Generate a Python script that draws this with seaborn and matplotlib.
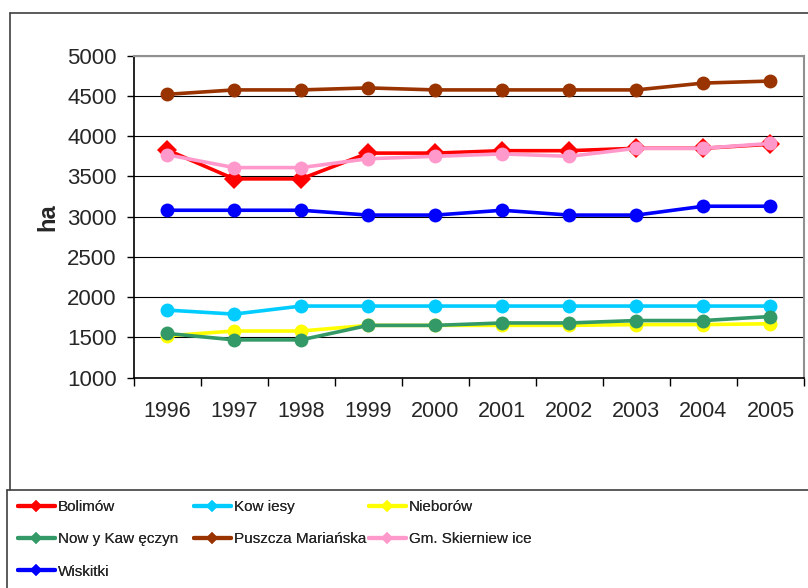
import numpy as np
import pandas as pd
import matplotlib
matplotlib.use("Agg")
import matplotlib.pyplot as plt
from matplotlib.lines import Line2D
import seaborn as sns

years = ["1996", "1997", "1998", "1999", "2000", "2001", "2002", "2003", "2004", "2005"]

bolimow = [3830, 3470, 3470, 3790, 3790, 3820, 3820, 3850, 3850, 3900]
kowiesy = [1840, 1790, 1890, 1890, 1890, 1890, 1890, 1890, 1890, 1890]
nieborow = [1520, 1580, 1580, 1650, 1650, 1650, 1650, 1660, 1660, 1670]
nowy_kaweczyn = [1550, 1470, 1470, 1650, 1650, 1680, 1680, 1710, 1710, 1760]
puszcza = [4520, 4575, 4575, 4600, 4575, 4575, 4575, 4575, 4660, 4685]
skierniewice = [3770, 3610, 3610, 3720, 3750, 3780, 3750, 3850, 3850, 3910]
wiskitki = [3080, 3080, 3080, 3020, 3020, 3080, 3020, 3020, 3130, 3130]

series_names = ["Bolimów", "Kow iesy", "Nieborów", "Now y Kaw ęczyn",
                "Puszcza Mariańska", "Gm. Skierniew ice", "Wiskitki"]
series_values = [bolimow, kowiesy, nieborow, nowy_kaweczyn, puszcza, skierniewice, wiskitki]
colors = ["#FF0000", "#00CCFF", "#FFFF00", "#339966", "#993300", "#FF99CC", "#0000FF"]
markers = ["D", "o", "o", "o", "o", "o", "o"]

y_ticks = [1000, 1500, 2000, 2500, 3000, 3500, 4000, 4500, 5000]

rows = []
for name, vals in zip(series_names, series_values):
    for yr, v in zip(years, vals):
        rows.append({"year": yr, "ha": v, "site": name})
df = pd.DataFrame(rows)

sns.set_style("white")
plt.rcParams["font.family"] = ["Liberation Sans", "DejaVu Sans"]

W, H = 808, 588
fig = plt.figure(figsize=(W / 100, H / 100), dpi=100)
ax = fig.add_axes([133.5 / W, 1 - 377.7 / H, (804 - 133.5) / W, (377.7 - 55.7) / H])

palette = dict(zip(series_names, colors))
mk = dict(zip(series_names, markers))
sns.lineplot(data=df, x="year", y="ha", hue="site", style="site",
             hue_order=series_names, style_order=series_names,
             palette=palette, markers=mk, dashes=False, sort=False,
             linewidth=2.6, markersize=10, markeredgewidth=0, ax=ax, zorder=3)

ax.get_legend().remove()

ax.set_xlim(-0.5, 9.5)
ax.set_ylim(1000, 5000)
ax.set_yticks(y_ticks)
ax.set_yticklabels([str(t) for t in y_ticks])
ax.set_xticks(np.arange(-0.5, 10, 1.0))
ax.set_xticklabels([])
ax.set_xticks(np.arange(0, 10), minor=True)
ax.set_xticklabels(years, minor=True)
ax.tick_params(axis="x", which="major", direction="out", length=6, width=1, color="black", bottom=True)
ax.tick_params(axis="x", which="minor", length=0, pad=17, labelsize=15.5)
ax.tick_params(axis="y", direction="out", length=5, width=1, color="black", left=True, pad=7, labelsize=16)
ax.set_xlabel("")
ax.set_ylabel("ha", fontsize=17, fontweight="bold", labelpad=6)

ax.yaxis.grid(True, color="black", linewidth=0.8)
ax.xaxis.grid(False)
ax.set_axisbelow(True)
for s in ["left", "bottom"]:
    ax.spines[s].set_color("black")
    ax.spines[s].set_linewidth(1.2)
for s in ["top", "right"]:
    ax.spines[s].set_color("#909090")
    ax.spines[s].set_linewidth(1.5)

# legend: three columns, row-major order as in the reference
proxies = {n: Line2D([], [], color=c, lw=3, marker="D", markersize=6, markeredgewidth=0)
           for n, c in zip(series_names, colors)}
columns = [
    (["Bolimów", "Now y Kaw ęczyn", "Wiskitki"], 18),
    (["Kow iesy", "Puszcza Mariańska"], 194),
    (["Nieborów", "Gm. Skierniew ice"], 369),
]
for names, x0 in columns:
    leg = fig.legend([proxies[n] for n in names], names, loc="upper left",
                     bbox_to_anchor=(x0 / W, 1 - 500 / H), frameon=False,
                     fontsize=11, handlelength=2.4, handletextpad=0.2,
                     labelspacing=1.2, borderaxespad=0, borderpad=0)
    fig.add_artist(leg)

# outer frames
fc = "#404040"
fig.add_artist(Line2D([10 / W, 10 / W], [1 - 13 / H, 1 - 490 / H], transform=fig.transFigure, color=fc, lw=1.2))
fig.add_artist(Line2D([10 / W, 1.0], [1 - 13 / H, 1 - 13 / H], transform=fig.transFigure, color=fc, lw=1.2))
fig.add_artist(Line2D([7 / W, 1.0], [1 - 490 / H, 1 - 490 / H], transform=fig.transFigure, color=fc, lw=1.2))
fig.add_artist(Line2D([7 / W, 7 / W], [1 - 490 / H, 0.0], transform=fig.transFigure, color=fc, lw=1.2))

fig.savefig("out.png", dpi=100)
